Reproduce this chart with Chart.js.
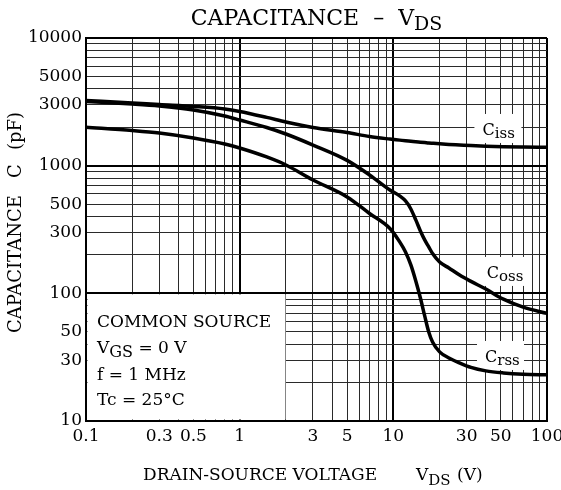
<!DOCTYPE html>
<html>
<head>
<meta charset="utf-8">
<script src="https://cdn.jsdelivr.net/npm/chart.js@4.4.1/dist/chart.umd.min.js"></script>
<style>
  html, body { margin: 0; padding: 0; background: #fff; }
  canvas { display: block; }
</style>
</head>
<body>
<canvas id="capchart" width="561" height="490"></canvas>
<script>
// drain-source voltage (V)
var vds  = [0.1, 0.2, 0.3, 0.5, 0.8, 1, 1.5, 2, 3, 5, 7, 9.5, 11, 12, 13, 14, 15, 16, 17, 18, 20, 23, 27, 32, 40, 52, 70, 100];
// capacitance (pF)
var ciss = [3240, 3100, 3010, 2910, 2780, 2660, 2390, 2200, 1990, 1820, 1690, 1615, 1585, 1567, 1553, 1539, 1528, 1517, 1506, 1498, 1484, 1468, 1453, 1437, 1421, 1409, 1401, 1394];
var coss = [3180, 3040, 2935, 2730, 2450, 2280, 1990, 1770, 1450, 1100, 846, 645, 579, 529, 458, 376, 308, 262, 231, 205, 176, 158, 139, 124, 108, 90, 78, 69.6];
var crss = [1998, 1886, 1803, 1648, 1479, 1376, 1170, 1013, 773, 569, 422, 322, 253, 211, 167, 125, 92, 66.5, 49.8, 41.6, 34.8, 31.2, 28.5, 26.3, 24.7, 23.8, 23.25, 23.0];

var xTickLabels = [0.1, 0.3, 0.5, 1, 3, 5, 10, 30, 50, 100];
var yTickLabels = [10, 30, 50, 100, 300, 500, 1000, 3000, 5000, 10000];

var FONT = '"DejaVu Serif", serif';

// 1..9 x 10^n lines for the log paper
function logGrid(lo, hi) {
    var out = [];
    for (var e = Math.round(Math.log10(lo)); e < Math.round(Math.log10(hi)); e++) {
        for (var s = 1; s < 10; s++) {
            out.push(+(s * Math.pow(10, e)).toPrecision(2));
        }
    }
    out.push(hi);
    return out;
}

function isDecade(v) {
    var l = Math.log10(v);
    return Math.abs(l - Math.round(l)) < 1e-6;
}

function toPoints(ys) {
    return vds.map(function (v, i) { return { x: v, y: ys[i] }; });
}

// text with a subscript, returns width drawn
function drawSub(ctx, x, y, main, sub, size, subSize, drop) {
    ctx.font = size + 'px ' + FONT;
    ctx.fillText(main, x, y);
    var w = ctx.measureText(main).width;
    ctx.font = subSize + 'px ' + FONT;
    ctx.fillText(sub, x + w, y + drop);
    return w + ctx.measureText(sub).width;
}

var curveLabels = [
    { name: 'iss', x: 38, y: 1740 },
    { name: 'oss', x: 40.5, y: 132 },
    { name: 'rss', x: 39.5, y: 29 }
];

var paperPlugin = {
    id: 'paper',
    beforeDatasetsDraw: function (chart) {
        var ctx = chart.ctx, xs = chart.scales.x, ys = chart.scales.y, a = chart.chartArea;
        ctx.save();
        ctx.fillStyle = '#fff';
        // conditions box, no grid inside
        var bx = a.left + 1.5, by = ys.getPixelForValue(100) + 1;
        ctx.fillRect(bx, by, xs.getPixelForValue(2) - 0.5 - bx, a.bottom - 1.5 - by);
        // label backgrounds
        curveLabels.forEach(function (l) {
            var px = xs.getPixelForValue(l.x), py = ys.getPixelForValue(l.y);
            ctx.fillRect(px - 8, py - 21, 47, 29);
        });
        ctx.restore();
    },
    afterDatasetsDraw: function (chart) {
        var ctx = chart.ctx, xs = chart.scales.x, ys = chart.scales.y, a = chart.chartArea;
        ctx.save();
        ctx.fillStyle = '#000';
        ctx.textBaseline = 'alphabetic';
        ctx.textAlign = 'left';

        curveLabels.forEach(function (l) {
            drawSub(ctx, xs.getPixelForValue(l.x), ys.getPixelForValue(l.y), 'C', l.name, 16, 15, 3);
        });

        // test conditions
        var lx = a.left + 11, top = ys.getPixelForValue(100);
        ctx.font = '17px ' + FONT;
        ctx.fillText('COMMON SOURCE', lx, top + 34);
        var w = drawSub(ctx, lx, top + 60, 'V', 'GS', 17, 16, 4);
        ctx.font = '17px ' + FONT;
        ctx.fillText(' = 0 V', lx + w, top + 60);
        ctx.fillText('f = 1 MHz', lx, top + 87);
        ctx.fillText('Tc = 25\u00B0C', lx, top + 112);

        // title
        ctx.font = '22px ' + FONT;
        var t1 = 'CAPACITANCE  \u2013  V';
        var tw = ctx.measureText(t1).width;
        ctx.font = '19px ' + FONT;
        tw += ctx.measureText('DS').width;
        var tx = (a.left + a.right) / 2 - tw / 2;
        drawSub(ctx, tx, 25, t1, 'DS', 22, 19, 5);

        // x axis title
        ctx.font = '17px ' + FONT;
        ctx.fillText('DRAIN-SOURCE VOLTAGE', 143, 480);
        drawSub(ctx, 416, 480, 'V', 'DS', 17, 15, 5);
        ctx.font = '17px ' + FONT;
        ctx.fillText('(V)', 457, 480);

        // y axis title
        ctx.translate(21, 333);
        ctx.rotate(-Math.PI / 2);
        ctx.font = '18px ' + FONT;
        ctx.fillText('CAPACITANCE', 0, 0);
        ctx.fillText('C', 155, 0);
        ctx.fillText('(pF)', 183, 0);
        ctx.restore();
    }
};

var gridStyle = {
    color: function (c) { return c.tick && isDecade(c.tick.value) ? '#000' : '#2a2a2a'; },
    lineWidth: function (c) { return c.tick && isDecade(c.tick.value) ? 2 : 1; },
    drawTicks: false
};

var lineStyle = {
    borderColor: '#000',
    borderWidth: 3.5,
    pointRadius: 0,
    fill: false,
    cubicInterpolationMode: 'monotone'
};

var ctx = document.getElementById('capchart').getContext('2d');
var chart = new Chart(ctx, {
    type: 'line',
    data: {
        datasets: [
            Object.assign({ label: 'Ciss', data: toPoints(ciss) }, lineStyle),
            Object.assign({ label: 'Coss', data: toPoints(coss) }, lineStyle),
            Object.assign({ label: 'Crss', data: toPoints(crss) }, lineStyle)
        ]
    },
    options: {
        responsive: false,
        animation: false,
        events: [],
        layout: { padding: { top: 38, right: 14, bottom: 0, left: 0 } },
        plugins: {
            legend: { display: false },
            tooltip: { enabled: false }
        },
        scales: {
            x: {
                type: 'logarithmic',
                min: 0.1,
                max: 100,
                grid: gridStyle,
                border: { color: '#000', width: 2 },
                afterBuildTicks: function (s) {
                    s.ticks = logGrid(0.1, 100).map(function (v) { return { value: v }; });
                },
                afterFit: function (s) {
                    s.height = 69;
                    s.paddingLeft = 0;
                    s.paddingRight = 0;
                },
                ticks: {
                    autoSkip: false,
                    maxRotation: 0,
                    padding: 5,
                    color: '#000',
                    font: { family: FONT, size: 17 },
                    callback: function (v) { return xTickLabels.indexOf(v) >= 0 ? String(v) : ''; }
                }
            },
            y: {
                type: 'logarithmic',
                min: 10,
                max: 10000,
                grid: gridStyle,
                border: { color: '#000', width: 2 },
                afterBuildTicks: function (s) {
                    s.ticks = logGrid(10, 10000).map(function (v) { return { value: v }; });
                },
                afterFit: function (s) {
                    s.width = 86;
                    s.paddingTop = 0;
                    s.paddingBottom = 0;
                },
                ticks: {
                    autoSkip: false,
                    padding: 4,
                    color: '#000',
                    font: { family: FONT, size: 17 },
                    callback: function (v) { return yTickLabels.indexOf(v) >= 0 ? String(v) : ''; }
                }
            }
        }
    },
    plugins: [paperPlugin]
});
</script>
</body>
</html>
